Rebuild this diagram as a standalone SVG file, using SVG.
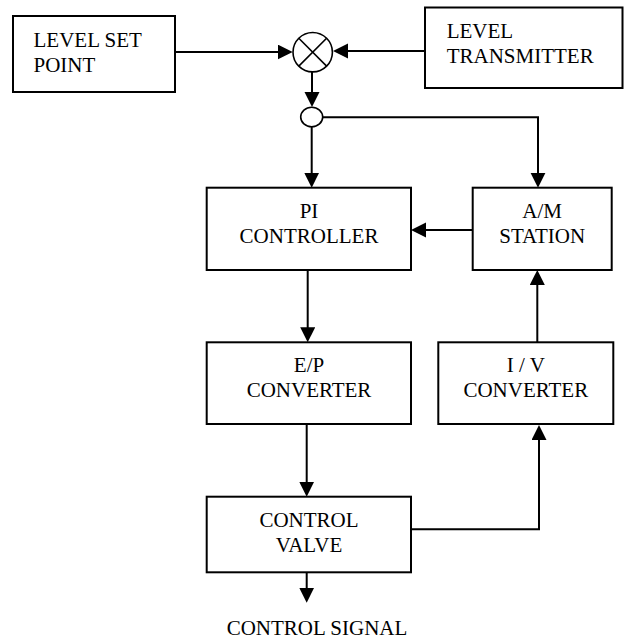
<svg xmlns="http://www.w3.org/2000/svg" width="625" height="639" viewBox="0 0 625 639">
  <style>
    .box { fill: #fff; stroke: #000; stroke-width: 2; }
    .lbl { font-family: "Liberation Serif", "Times New Roman", Times, serif; font-size: 21px; fill: #000; }
    .mid { text-anchor: middle; }
    .wire { fill: none; stroke: #000; stroke-width: 2; }
    .arrow { marker-end: url(#head); }
    .sum { fill: #fff; stroke: #000; stroke-width: 1.6; }
  </style>
  <defs>
    <marker id="head" markerUnits="userSpaceOnUse" markerWidth="16" markerHeight="16" refX="12" refY="7.5" orient="auto">
      <path d="M0,0 L15,7.5 L0,15 z" fill="#000"/>
    </marker>
  </defs>
  <rect width="625" height="639" fill="#fff"/>

  <!-- connectors -->
  <g id="connectors">
    <line class="wire arrow" x1="175" y1="52" x2="289.7" y2="52"/>
    <line class="wire arrow" x1="425" y1="51" x2="336" y2="51"/>
    <line class="wire arrow" x1="312" y1="71.7" x2="312" y2="104"/>
    <line class="wire arrow" x1="311.7" y1="126.8" x2="311.7" y2="184.7"/>
    <path class="wire arrow" d="M322.7,117.3 H538 V184.7"/>
    <line class="wire arrow" x1="472.7" y1="230" x2="414" y2="230"/>
    <line class="wire arrow" x1="307.7" y1="270" x2="307.7" y2="339.3"/>
    <line class="wire arrow" x1="537.3" y1="342.3" x2="537.3" y2="273"/>
    <line class="wire arrow" x1="306.7" y1="424" x2="306.7" y2="493.7"/>
    <path class="wire arrow" d="M411,529.3 H539 V428"/>
    <line class="wire arrow" x1="306.7" y1="572.3" x2="306.7" y2="599.7"/>
  </g>

  <!-- summing junction -->
  <g id="summer">
    <circle class="sum" cx="312.7" cy="52.2" r="19.7"/>
    <line class="sum" x1="298.8" y1="38.3" x2="326.6" y2="66.1"/>
    <line class="sum" x1="326.6" y1="38.3" x2="298.8" y2="66.1"/>
  </g>

  <!-- branch point -->
  <g id="branch">
    <ellipse class="sum" cx="311.7" cy="117" rx="11" ry="9.8"/>
  </g>

  <g id="level-set-point" font-family="'Liberation Serif', serif">
    <rect class="box" x="13" y="16" width="162" height="76"/>
    <text class="lbl" x="33.5" y="46.7">LEVEL SET</text>
    <text class="lbl" x="33.5" y="71.7">POINT</text>
  </g>

  <g id="level-transmitter">
    <rect class="box" x="425" y="7.5" width="197.5" height="80.5"/>
    <text class="lbl" x="446.7" y="38.3">LEVEL</text>
    <text class="lbl" x="446.7" y="63.3">TRANSMITTER</text>
  </g>

  <g id="pi-controller">
    <rect class="box" x="206.7" y="187.7" width="204.3" height="82.3"/>
    <text class="lbl mid" x="309" y="218.3">PI</text>
    <text class="lbl mid" x="309" y="242.7">CONTROLLER</text>
  </g>

  <g id="am-station">
    <rect class="box" x="472.7" y="187.7" width="139" height="82.3"/>
    <text class="lbl mid" x="542.2" y="218.3">A/M</text>
    <text class="lbl mid" x="542.2" y="242.7">STATION</text>
  </g>

  <g id="ep-converter">
    <rect class="box" x="206.7" y="342.3" width="204.3" height="81.7"/>
    <text class="lbl mid" x="309" y="372.2">E/P</text>
    <text class="lbl mid" x="309" y="397">CONVERTER</text>
  </g>

  <g id="iv-converter">
    <rect class="box" x="438.3" y="342.3" width="175" height="81.7"/>
    <text class="lbl mid" x="525.8" y="372.2">I / V</text>
    <text class="lbl mid" x="525.8" y="397">CONVERTER</text>
  </g>

  <g id="control-valve">
    <rect class="box" x="206.7" y="496.7" width="204.3" height="75.6"/>
    <text class="lbl mid" x="309" y="526.7">CONTROL</text>
    <text class="lbl mid" x="309" y="551.7">VALVE</text>
  </g>

  <g id="control-signal">
    <text class="lbl mid" x="317" y="635">CONTROL SIGNAL</text>
  </g>
</svg>
